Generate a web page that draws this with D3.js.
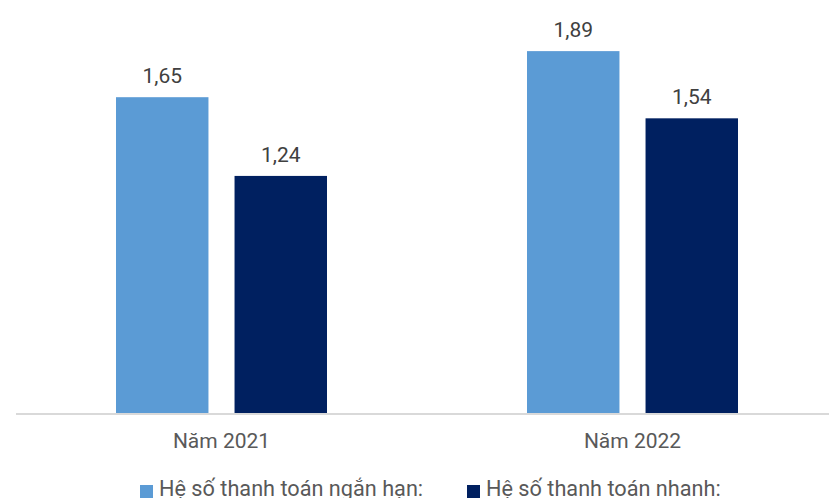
<!DOCTYPE html>
<html>
<head>
<meta charset="utf-8">
<script src="https://cdn.jsdelivr.net/npm/d3@7/dist/d3.min.js"></script>
<style>
  html, body { margin: 0; padding: 0; background: #ffffff; }
  svg { display: block; }
  text { font-family: Roboto, "Noto Sans", sans-serif; }
</style>
</head>
<body>
<svg id="chart" width="829" height="498"></svg>
<script>
// Years shown on the category axis
const categories = ["Năm 2021", "Năm 2022"];
// Liquidity ratios per year
const seriesNames = ["Hệ số thanh toán ngắn hạn:", "Hệ số thanh toán nhanh:"];
const currentRatio = [1.65, 1.89];
const quickRatio = [1.24, 1.54];
const seriesColors = ["#5B9BD5", "#002060"];

const svg = d3.select("#chart");
const width = 829, height = 498;
const baseY = 414;

const series = [currentRatio, quickRatio];
const rows = categories.map((c, i) => ({
  cat: c,
  values: series.map((s, k) => ({ key: k, value: s[i] }))
}));

const x0 = d3.scaleBand().domain(categories).range([16, 838]).paddingInner(0).paddingOuter(0);
const x1 = d3.scaleBand().domain([0, 1]).range([0, 211]).paddingInner(0.22);
const y = d3.scaleLinear().domain([0, 2]).range([baseY, baseY - 384]);

const fmt = v => d3.format(".2f")(v).replace(".", ",");

// Bars
const groups = svg.selectAll("g.grp").data(rows).join("g")
  .attr("class", "grp")
  .attr("transform", d => `translate(${x0(d.cat) + x0.bandwidth() / 2 - 105.5},0)`);

groups.selectAll("rect").data(d => d.values).join("rect")
  .attr("x", d => x1(d.key))
  .attr("width", x1.bandwidth())
  .attr("y", d => y(d.value))
  .attr("height", d => y(0) - y(d.value))
  .attr("fill", d => seriesColors[d.key]);

// Value labels
groups.selectAll("text.val").data(d => d.values).join("text")
  .attr("class", "val")
  .attr("x", d => x1(d.key) + x1.bandwidth() / 2)
  .attr("y", d => y(d.value) - 14)
  .attr("text-anchor", "middle")
  .attr("font-size", 21)
  .attr("fill", "#404040")
  .text(d => fmt(d.value));

// Category axis
svg.append("line")
  .attr("x1", 16).attr("x2", width)
  .attr("y1", baseY).attr("y2", baseY)
  .attr("stroke", "#d9d9d9").attr("stroke-width", 2);

const xAxis = d3.axisBottom(x0).tickSize(0).tickPadding(0);
const ax = svg.append("g").attr("transform", `translate(0,${baseY})`).call(xAxis);
ax.select(".domain").remove();
ax.selectAll("text")
  .attr("y", 34).attr("dy", 0)
  .attr("font-size", 21)
  .attr("font-family", "Roboto, sans-serif")
  .attr("fill", "#595959");

// Legend along the bottom edge
const legendX = [140, 467];
const legend = svg.selectAll("g.leg").data(seriesNames).join("g")
  .attr("class", "leg")
  .attr("transform", (d, i) => `translate(${legendX[i]},0)`);
legend.append("rect")
  .attr("x", 0).attr("y", 485).attr("width", 13).attr("height", 13)
  .attr("fill", (d, i) => seriesColors[i]);
legend.append("text")
  .attr("x", 19).attr("y", 496)
  .attr("font-size", 21.7)
  .attr("fill", "#595959")
  .text(d => d);
</script>
</body>
</html>
